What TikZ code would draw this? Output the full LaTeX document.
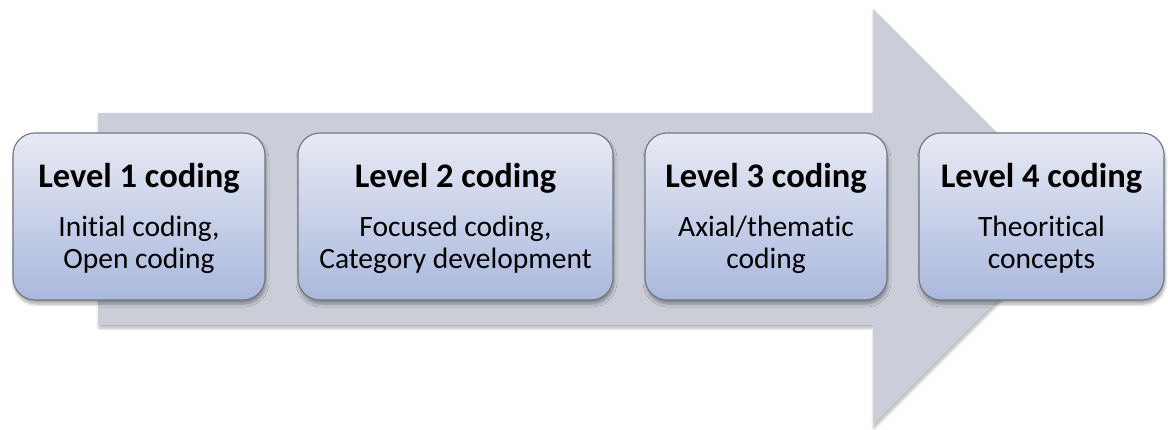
\documentclass[tikz,border=0pt]{standalone}
\usepackage{fontspec}
\setmainfont{Carlito}[RawFeature=-liga]
\usetikzlibrary{shadows.blur}
\definecolor{arrowgrey}{HTML}{CBCED8}
\definecolor{boxtop}{HTML}{E7EAF5}
\definecolor{boxbot}{HTML}{A9B8DC}
\definecolor{boxline}{HTML}{70747E}
\newcommand{\twolines}[2]{\setlength{\tabcolsep}{0pt}\begin{tabular}[t]{c}#1\\#2\end{tabular}}
\tikzset{
  levelbox/.style={draw=boxline, line width=1.1pt, rounded corners=22pt,
    top color=boxtop, bottom color=boxbot, minimum height=167pt,
    blur shadow={shadow xshift=1pt, shadow yshift=-4pt, shadow opacity=35, shadow blur steps=6, shadow blur radius=3pt}},
  title/.style={font=\fontsize{34.5}{38}\selectfont\bfseries, anchor=base, inner sep=0pt},
  sub/.style={font=\fontsize{29.5}{31.5}\selectfont, anchor=base, inner sep=0pt},
}
\begin{document}
\begin{tikzpicture}[x=1pt,y=-1pt]
\useasboundingbox (0,0) rectangle (1168,430);
\path[fill=arrowgrey, blur shadow={shadow xshift=1pt, shadow yshift=-3pt, shadow opacity=30, shadow blur steps=6, shadow blur radius=3pt}]
  (98,113) -- (873,113) -- (873,9) -- (1081,217) -- (873,425) -- (873,325) -- (98,325) -- cycle;
\node[levelbox, minimum width=252pt] (b1) at (139,216.5) {};
\node[levelbox, minimum width=315pt] (b2) at (455.5,216.5) {};
\node[levelbox, minimum width=242pt] (b3) at (766,216.5) {};
\node[levelbox, minimum width=245pt] (b4) at (1041.5,216.5) {};
\node[title] (t1) at (139,188) {Level 1 coding};
\node[title] (t2) at (455.5,188) {Level 2 coding};
\node[title] (t3) at (766,188) {Level 3 coding};
\node[title] (t4) at (1041.5,188) {Level 4 coding};
\node[sub] (s1) at (139,237) {\twolines{Initial coding,}{Open coding}};
\node[sub] (s2) at (455.5,237) {\twolines{Focused coding,}{Category development}};
\node[sub] (s3) at (766,237) {\twolines{Axial/thematic}{coding}};
\node[sub] (s4) at (1041.5,237) {\twolines{Theoritical}{concepts}};
\end{tikzpicture}
\end{document}
